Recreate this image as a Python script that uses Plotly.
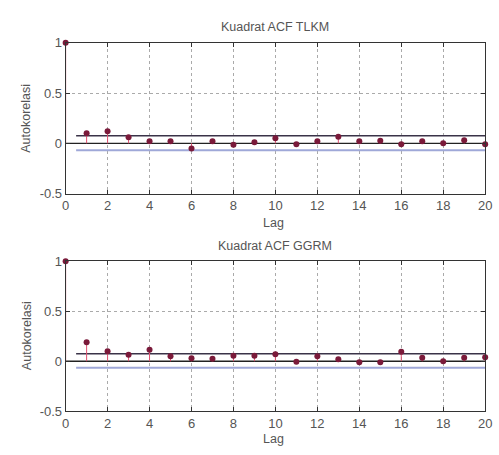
import plotly.graph_objects as go

lags = list(range(0, 21))
acf_tlkm = [1.0, 0.10, 0.12, 0.06, 0.02, 0.02, -0.05, 0.02, -0.015, 0.01, 0.05,
            -0.01, 0.02, 0.065, 0.02, 0.025, -0.01, 0.02, 0.0, 0.03, -0.01]
acf_ggrm = [1.0, 0.19, 0.10, 0.065, 0.115, 0.05, 0.03, 0.025, 0.055, 0.055, 0.07,
            -0.005, 0.05, 0.02, -0.01, -0.01, 0.095, 0.035, 0.0, 0.035, 0.04]
bounds_tlkm = [0.075, -0.068]
bounds_ggrm = [0.075, -0.065]
titles = ["Kuadrat ACF TLKM", "Kuadrat ACF GGRM"]
x_ticks = list(range(0, 21, 2))
y_ticks = [-0.5, 0, 0.5, 1]
y_ticktext = ["-0.5", "0", "0.5", "1"]

fig = go.Figure()

domains_y = [[0.5758, 0.9187], [0.0813, 0.4220]]
xdom = [0.1263, 0.986]
font = dict(family="Liberation Sans, Arial, sans-serif", size=12.5, color="#555")

for i, (acf, bnd) in enumerate([(acf_tlkm, bounds_tlkm), (acf_ggrm, bounds_ggrm)]):
    xa = "x" if i == 0 else "x2"
    ya = "y" if i == 0 else "y2"
    # zero line
    fig.add_trace(go.Scatter(x=[lags[0], lags[-1]], y=[0, 0], mode="lines",
                             line=dict(color="#222", width=1.3), xaxis=xa, yaxis=ya,
                             showlegend=False, hoverinfo="skip"))
    # bounds
    fig.add_trace(go.Scatter(x=[0.5, lags[-1]], y=[bnd[0], bnd[0]], mode="lines",
                             line=dict(color="#3a3348", width=1.5), xaxis=xa, yaxis=ya,
                             showlegend=False, hoverinfo="skip"))
    fig.add_trace(go.Scatter(x=[0.5, lags[-1]], y=[bnd[1], bnd[1]], mode="lines",
                             line=dict(color="#9fa8d8", width=2), xaxis=xa, yaxis=ya,
                             showlegend=False, hoverinfo="skip"))
    # stems
    sx, sy = [], []
    for l, v in zip(lags, acf):
        sx += [l, l, None]
        sy += [0, v, None]
    fig.add_trace(go.Scatter(x=sx, y=sy, mode="lines",
                             line=dict(color="#e05070", width=1), xaxis=xa, yaxis=ya,
                             showlegend=False, hoverinfo="skip"))
    fig.add_trace(go.Scatter(x=lags, y=acf, mode="markers",
                             marker=dict(color="#7a1a3a", size=6), xaxis=xa, yaxis=ya,
                             showlegend=False, cliponaxis=False))

axis_common = dict(showline=True, linecolor="#333", linewidth=1, mirror="ticks",
                   ticks="inside", ticklen=4, tickcolor="#333",
                   showgrid=True, gridcolor="#aaa", griddash="dot", gridwidth=1,
                   zeroline=False, ticklabeloverflow="allow",
                   tickfont=dict(family="Liberation Sans, Arial, sans-serif",
                                 size=13, color="#555"))

fig.update_layout(
    width=499, height=455, margin=dict(l=0, r=0, t=0, b=0),
    paper_bgcolor="white", plot_bgcolor="white",
    xaxis=dict(domain=xdom, range=[0, 20], tickvals=x_ticks, anchor="y", **axis_common),
    yaxis=dict(domain=domains_y[0], range=[-0.5, 1], tickvals=y_ticks, ticktext=y_ticktext,
               anchor="x", **axis_common),
    xaxis2=dict(domain=xdom, range=[0, 20], tickvals=x_ticks, anchor="y2", **axis_common),
    yaxis2=dict(domain=domains_y[1], range=[-0.5, 1], tickvals=y_ticks, ticktext=y_ticktext,
                anchor="x2", **axis_common),
)

ann = []
ann.append(dict(text=titles[0], x=0.555, y=0.954, xref="paper", yref="paper",
                showarrow=False, font=font, xanchor="center", yanchor="middle"))
ann.append(dict(text=titles[1], x=0.555, y=0.457, xref="paper", yref="paper",
                showarrow=False, font=font, xanchor="center", yanchor="middle"))
ann.append(dict(text="Lag", x=0.553, y=0.508, xref="paper", yref="paper",
                showarrow=False, font=font, xanchor="center", yanchor="middle"))
ann.append(dict(text="Lag", x=0.553, y=0.018, xref="paper", yref="paper",
                showarrow=False, font=font, xanchor="center", yanchor="middle"))
for yc in [0.747, 0.253]:
    ann.append(dict(text="Autokorelasi", x=0.046, y=yc, xref="paper", yref="paper",
                    showarrow=False, font=font, textangle=-90,
                    xanchor="center", yanchor="middle"))
fig.update_layout(annotations=ann)

fig.write_html("out.html")
